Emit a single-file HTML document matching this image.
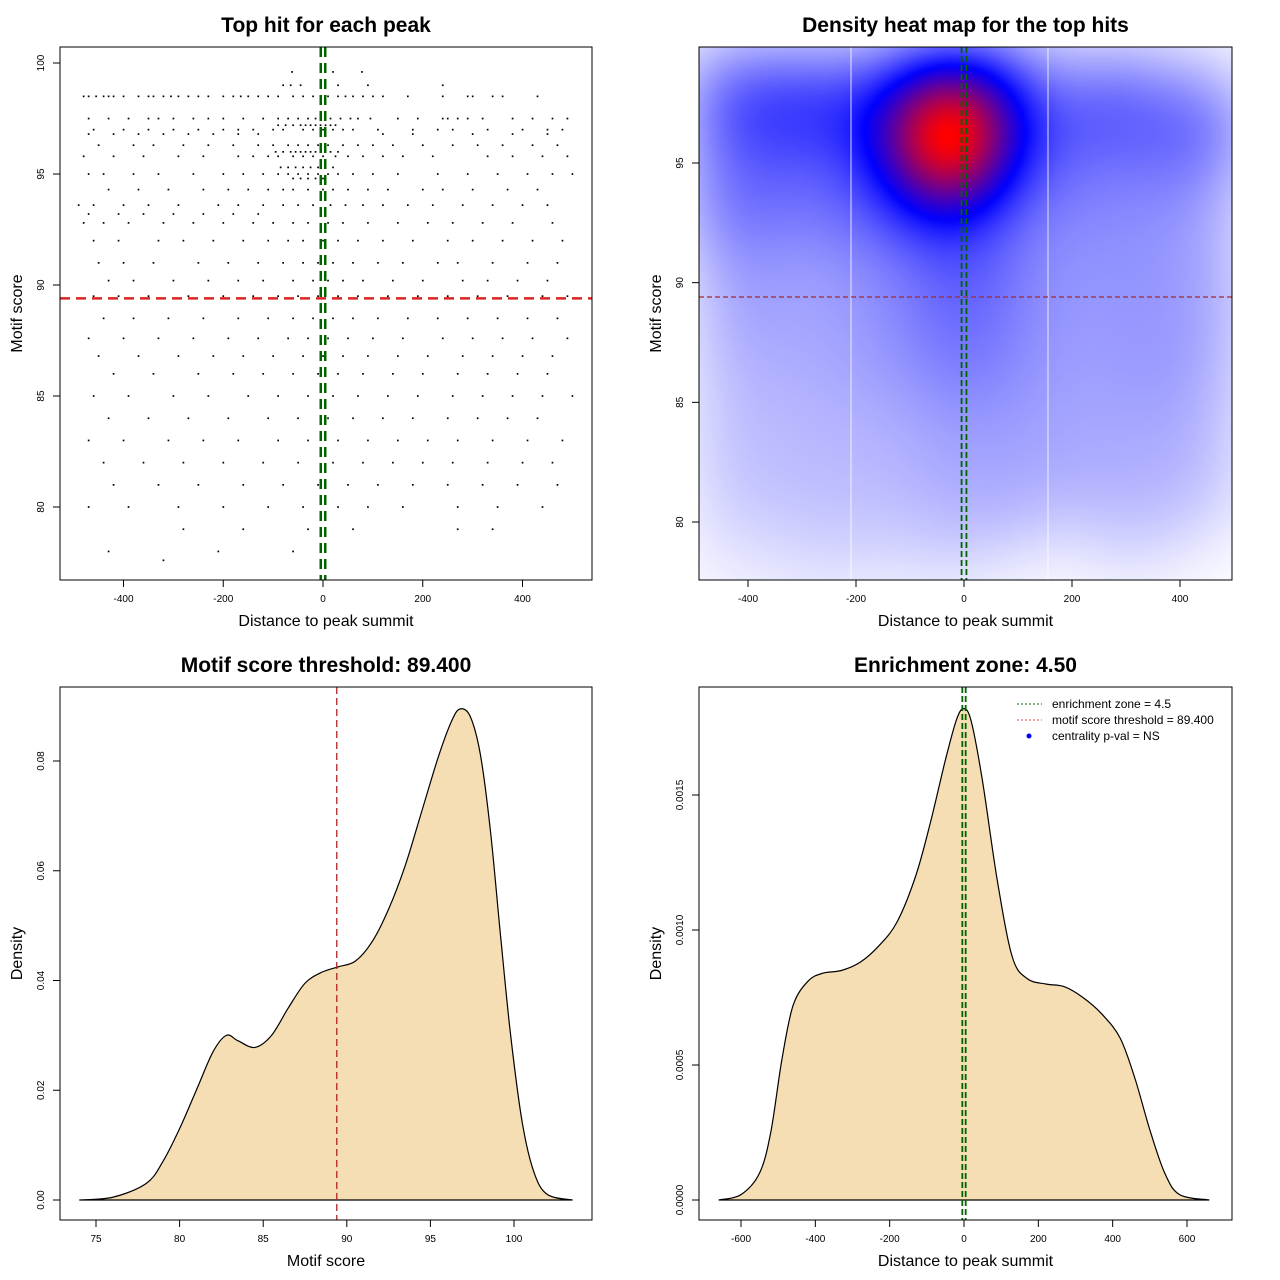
<!DOCTYPE html>
<html><head><meta charset="utf-8"><style>
body{margin:0;background:#fff;width:1280px;height:1280px;overflow:hidden;font-family:"Liberation Sans",sans-serif}
#wrap{position:relative;width:1280px;height:1280px}
canvas{position:absolute;left:699px;top:47px}
svg{position:absolute;left:0;top:0}
</style></head><body>
<div id="wrap">
<canvas id="heat" width="533" height="533"></canvas>
<svg id="svg" width="1280" height="1280"></svg>
</div>
<script>
// ---- scatter data: score bands and distances ----
const bandScores=[99.6,99,98.5,97.5,97.2,97,96.8,96.3,96,95.8,95.3,95,94.8,94.3,93.6,93.2,92.8,92,91,90.2,89.5,88.5,87.6,86.8,86,85,84,83,82,81,80,79,78,77.6];
const bandX=[
[-62,20,78],
[-80,-65,-45,30,90,240],
[-480,-470,-455,-440,-430,-420,-400,-370,-350,-340,-320,-305,-290,-270,-250,-230,-200,-180,-165,-150,-130,-110,-90,-60,-40,-20,10,30,45,60,80,100,120,170,240,290,300,340,360,430],
[-470,-430,-390,-350,-330,-300,-260,-230,-200,-160,-120,-90,-70,-50,-30,-15,-5,15,35,55,70,95,150,190,240,250,270,290,320,380,420,460,490],
[-90,-75,-60,-45,-35,-25,-15,-5,5,15,25],
[-460,-400,-350,-300,-250,-200,-170,-140,-100,-80,-40,-20,0,20,40,60,110,180,230,260,330,400,450,480],
[-470,-420,-370,-320,-270,-220,-170,-130,120,180,300,380,450],
[-450,-380,-340,-280,-230,-180,-130,-100,-70,-50,-30,-10,10,40,70,100,140,200,260,310,360,420,470],
[-95,-80,-65,-55,-45,-35,-25,-15,-5,5,15,30],
[-480,-420,-360,-290,-240,-170,-140,-110,-90,-60,-40,-20,0,25,50,80,120,160,220,330,380,440,490],
[-85,-70,-55,-40,-25,-10,5,20],
[-470,-440,-380,-330,-260,-200,-160,-120,-90,-70,-50,-30,-10,10,30,60,100,150,230,290,350,410,460,500],
[-60,-45,-30,-15,0],
[-430,-370,-310,-240,-190,-150,-110,-80,-60,-30,0,20,50,90,130,200,240,300,370,430],
[-490,-460,-400,-350,-290,-210,-170,-120,-80,-50,-20,15,45,80,120,170,220,280,340,400,450],
[-470,-410,-360,-300,-240,-180,-130],
[-480,-440,-390,-320,-260,-200,-140,-100,-60,-30,10,40,90,150,210,260,320,380,460],
[-460,-410,-330,-280,-220,-160,-110,-70,-40,0,30,70,120,180,250,300,360,420,480],
[-450,-400,-340,-250,-190,-130,-80,-40,-10,20,60,110,160,230,270,340,410,470],
[-430,-380,-300,-230,-170,-120,-60,-20,10,40,80,140,200,280,330,390,450],
[-460,-410,-350,-270,-200,-140,-90,-50,-10,30,70,130,190,250,310,370,440,490],
[-440,-380,-310,-240,-170,-110,-60,-20,20,60,110,170,230,290,350,410,470],
[-470,-400,-330,-260,-190,-130,-70,-30,10,50,100,160,240,300,360,420,490],
[-450,-370,-290,-220,-160,-100,-40,0,40,90,150,210,280,340,400,460],
[-420,-340,-250,-180,-120,-60,-10,30,80,140,200,270,330,390,450],
[-460,-390,-300,-230,-150,-90,-30,20,70,130,190,260,320,380,440,500],
[-430,-350,-270,-190,-110,-50,10,60,120,180,250,310,370,430],
[-470,-400,-310,-240,-170,-90,-30,30,90,150,210,270,340,410,480],
[-440,-360,-280,-200,-120,-50,20,80,140,200,260,330,400,460],
[-420,-330,-250,-160,-80,-10,50,110,180,250,320,390,470],
[-470,-390,-290,-200,-110,-40,30,90,160,270,350,440],
[-280,-160,-30,60,270,340],
[-430,-210,-60],
[-320]];
// ---- density curve data ----
const scoreX=[74,76,78,79,80,81,82,82.8,83.5,84.5,85.5,86.5,87.5,88.5,89.5,90.5,91.5,92.5,93.5,94.5,95.5,96.3,96.8,97.4,98,98.6,99.2,99.8,100.5,101.2,102,103.5];
const scoreD=[0,0.0005,0.003,0.007,0.013,0.02,0.027,0.030,0.029,0.0278,0.030,0.035,0.0395,0.0415,0.0425,0.0435,0.047,0.053,0.061,0.071,0.081,0.0875,0.0895,0.088,0.081,0.067,0.048,0.030,0.014,0.005,0.001,0];
const distX=[-660,-600,-550,-520,-490,-460,-420,-380,-330,-280,-230,-180,-130,-90,-50,-20,0,20,50,90,130,170,220,270,320,370,420,460,500,540,580,660];
const distD=[0,0.00002,0.0001,0.00025,0.00052,0.00072,0.00081,0.00084,0.00085,0.00088,0.00094,0.00103,0.0012,0.00140,0.00163,0.00178,0.00182,0.00177,0.00155,0.00118,0.00090,0.00082,0.00080,0.00079,0.00075,0.00069,0.00060,0.00045,0.00026,0.0001,0.00002,0];
const threshold=89.4, zone=4.5;
const t1x=[-400,-200,0,200,400], t1y=[80,85,90,95,100];
const t2y=[80,85,90,95];
const t3x=[75,80,85,90,95,100], t3y=[0,0.02,0.04,0.06,0.08], t3yl=["0.00","0.02","0.04","0.06","0.08"];
const t4x=[-600,-400,-200,0,200,400,600], t4y=[0,0.0005,0.001,0.0015], t4yl=["0.0000","0.0005","0.0010","0.0015"];

const NS="http://www.w3.org/2000/svg";const svg=document.getElementById('svg');
function el(tag,attrs,parent,txt){const e=document.createElementNS(NS,tag);for(const k in attrs)e.setAttribute(k,attrs[k]);if(txt!==undefined)e.textContent=txt;(parent||svg).appendChild(e);return e;}
function lin(d0,d1,r0,r1){return v=>r0+(v-d0)*(r1-r0)/(d1-d0);}
function panel(name,L,T,W,H,sx,sy,xt,xl,yt,yl,title,xlab,ylab){
 const g=el('g',{});
 const ax=el('g',{},g);
 el('line',{x1:sx(xt[0]),x2:sx(xt[xt.length-1]),y1:T+H,y2:T+H,stroke:'#000'},ax);
 xt.forEach((v,i)=>{el('line',{x1:sx(v),x2:sx(v),y1:T+H,y2:T+H+7,stroke:'#000'},ax);el('text',{x:sx(v),y:T+H+22,'font-size':10,'text-anchor':'middle'},ax,xl[i]);});
 const ay=el('g',{},g);
 el('line',{x1:L,x2:L,y1:sy(yt[0]),y2:sy(yt[yt.length-1]),stroke:'#000'},ay);
 yt.forEach((v,i)=>{el('line',{x1:L,x2:L-7,y1:sy(v),y2:sy(v),stroke:'#000'},ay);el('text',{x:L-16,y:sy(v),'font-size':10,'text-anchor':'middle',transform:`rotate(-90 ${L-16} ${sy(v)})`},ay,yl[i]);});
 const tt=el('text',{x:L+W/2,y:T-15,'font-size':21,'font-weight':'bold','text-anchor':'middle'},g,title);
 const xa=el('text',{x:L+W/2,y:T+H+46,'font-size':16,'text-anchor':'middle'},g,xlab);
 const ya=el('text',{x:L-38,y:T+H/2,'font-size':16,'text-anchor':'middle',transform:`rotate(-90 ${L-38} ${T+H/2})`},g,ylab);
 return g;}
function box(g,L,T,W,H){const b=el('rect',{x:L,y:T,width:W,height:H,fill:'none',stroke:'#000'},g);}
function smooth(pts){let d=`M${pts[0][0]},${pts[0][1]}`;for(let i=0;i<pts.length-1;i++){const p0=pts[Math.max(0,i-1)],p1=pts[i],p2=pts[i+1],p3=pts[Math.min(pts.length-1,i+2)];
 d+=` C${p1[0]+(p2[0]-p0[0])/6},${p1[1]+(p2[1]-p0[1])/6} ${p2[0]-(p3[0]-p1[0])/6},${p2[1]-(p3[1]-p1[1])/6} ${p2[0]},${p2[1]}`;}return d;}

// Panel 1
{const L=60,T=47,W=532,H=533;const sx=lin(0,400,323,522.5),sy=lin(100,80,63,507);
 const g=panel('scatter-panel',L,T,W,H,sx,sy,t1x,t1x.map(String),t1y,t1y.map(String),'Top hit for each peak','Distance to peak summit','Motif score');
 const pg=el('g',{},g);
 bandScores.forEach((s,i)=>bandX[i].forEach(x=>{const c=el('rect',{x:sx(x)-0.8,y:sy(s)-0.8,width:1.7,height:1.7,fill:'#000'},pg);}));
 const h=el('line',{x1:L,x2:L+W,y1:sy(threshold),y2:sy(threshold),stroke:'#dd2222','stroke-width':2.5,'stroke-dasharray':'10 6'},g);
 [-zone,zone].forEach(z=>{const v=el('line',{x1:sx(z),x2:sx(z),y1:T,y2:T+H,stroke:'#006400','stroke-width':2.5,'stroke-dasharray':'10 6'},g);});
 box(g,L,T,W,H);}

// Panel 2 heatmap
{const L=699,T=47,W=533,H=533;const sx=lin(0,400,964,1180),sy=lin(95,80,163,522);
 const c=document.getElementById('heat'),ctx=c.getContext('2d');
 const pts=[];bandScores.forEach((s,i)=>bandX[i].forEach(x=>pts.push([x,s])));
 const N=133,cell=W/N,grid=new Float32Array(N*N);let mx=0;const bx=70,by=1.8;
 for(let j=0;j<N;j++){const yv=lin(T,T+H,99.85,77.55)(T+(j+0.5)*cell);for(let i=0;i<N;i++){const xv=lin(L,L+W,-491,496)(L+(i+0.5)*cell);let d=0;
  for(const p of pts){const dx=(p[0]-xv)/bx,dy=(p[1]-yv)/by;d+=Math.exp(-0.5*(dx*dx+dy*dy));}grid[j*N+i]=d;if(d>mx)mx=d;}}
 const off=document.createElement('canvas');off.width=N;off.height=N;const oc=off.getContext('2d');const img=oc.createImageData(N,N);
 for(let k=0;k<N*N;k++){const t=Math.pow(grid[k]/mx,1.0);let r,gg,b;if(t<0.5){const u=t/0.5;r=255*(1-u);gg=255*(1-u);b=255;}else{const u=Math.min(1,(t-0.5)/0.5);r=255*u;gg=0;b=255*(1-u);}
  img.data[k*4]=r;img.data[k*4+1]=gg;img.data[k*4+2]=b;img.data[k*4+3]=255;}
 oc.putImageData(img,0,0);ctx.imageSmoothingEnabled=true;ctx.drawImage(off,0,0,W,H);
 const g=panel('heatmap-panel',L,T,W,H,sx,sy,t1x,t1x.map(String),t2y,t2y.map(String),'Density heat map for the top hits','Distance to peak summit','Motif score');
 [851,1048].forEach(px=>{const w=el('line',{x1:px,x2:px,y1:T,y2:T+H,stroke:'#fff','stroke-width':1,opacity:0.8},g);});
 const h=el('line',{x1:L,x2:L+W,y1:sy(threshold),y2:sy(threshold),stroke:'#a52a2a','stroke-width':1.2,'stroke-dasharray':'5 3'},g);
 [-zone,zone].forEach(z=>{const v=el('line',{x1:sx(z),x2:sx(z),y1:T,y2:T+H,stroke:'#006400','stroke-width':1.8,'stroke-dasharray':'6 3'},g);});
 box(g,L,T,W,H);}

// Panel 3
{const L=60,T=687,W=532,H=533;const sx=lin(75,100,96,514),sy=lin(0,0.08,1200,761);
 const g=panel('score-density-panel',L,T,W,H,sx,sy,t3x,t3x.map(String),t3y,t3yl,'Motif score threshold: 89.400','Motif score','Density');
 const pts=scoreX.map((x,i)=>[sx(x),sy(scoreD[i])]);const d=smooth(pts);
 const a=el('path',{d:d+' Z',fill:'#F5DEB3',stroke:'#000','stroke-width':1.2},g);
 const v=el('line',{x1:sx(threshold),x2:sx(threshold),y1:T,y2:T+H,stroke:'#b22222','stroke-width':1.3,'stroke-dasharray':'7 4'},g);
 box(g,L,T,W,H);}

// Panel 4
{const L=699,T=687,W=533,H=533;const sx=lin(0,600,964,1187),sy=lin(0,0.0015,1200,795);
 const g=panel('distance-density-panel',L,T,W,H,sx,sy,t4x,t4x.map(String),t4y,t4yl,'Enrichment zone: 4.50','Distance to peak summit','Density');
 const pts=distX.map((x,i)=>[sx(x),sy(distD[i])]);const d=smooth(pts);
 const a=el('path',{d:d+' Z',fill:'#F5DEB3',stroke:'#000','stroke-width':1.2},g);
 [-zone,zone].forEach(z=>{const v=el('line',{x1:sx(z),x2:sx(z),y1:T,y2:T+H,stroke:'#006400','stroke-width':1.8,'stroke-dasharray':'6 3'},g);});
 const lg=el('g',{},g);
 const items=[['enrichment zone = 4.5','#006400','line'],['motif score threshold = 89.400','#ee4444','line'],['centrality p-val = NS','#0000ff','dot']];
 items.forEach((it,i)=>{const y=704+i*16;const e=el('g',{},lg);
  if(it[2]==='line')el('line',{x1:1017,x2:1042,y1:y,y2:y,stroke:it[1],'stroke-dasharray':'2 2'},e);else el('circle',{cx:1029,cy:y,r:2.5,fill:it[1]},e);
  el('text',{x:1052,y:y+4,'font-size':12},e,it[0]);});
 box(g,L,T,W,H);}
</script>
</body></html>
